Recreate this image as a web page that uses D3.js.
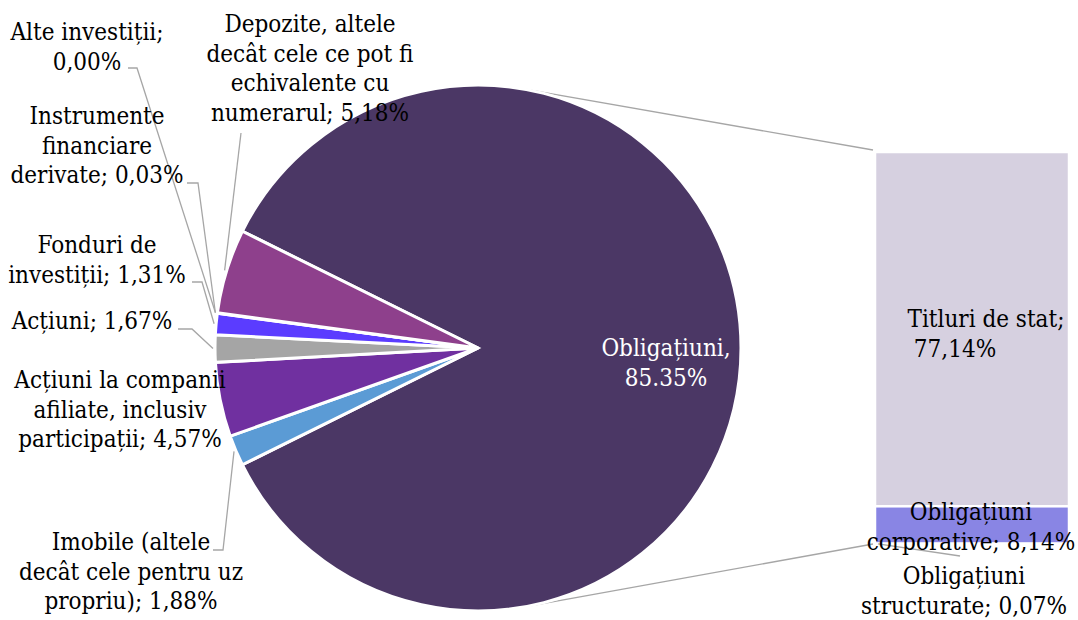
<!DOCTYPE html>
<html>
<head>
<meta charset="utf-8">
<script src="https://cdn.jsdelivr.net/npm/d3@7"></script>
<style>
  html, body { margin: 0; padding: 0; background: #ffffff; }
  svg { display: block; }
</style>
</head>
<body>
<svg id="chart" width="1078" height="620"></svg>
<script>
// Pie categories (clockwise after the large slice) and their shares, %
const pieNames = [
  "Obligațiuni",
  "Imobile (altele\ndecât cele pentru uz\npropriu)",
  "Acțiuni la companii\nafiliate, inclusiv\nparticipații",
  "Acțiuni",
  "Fonduri de\ninvestiții",
  "Instrumente\nfinanciare\nderivate",
  "Alte investiții",
  "Depozite, altele\ndecât cele ce pot fi\nechivalente cu\nnumerarul"
];
const pieValues = [85.35, 1.88, 4.57, 1.67, 1.31, 0.03, 0.00, 5.18];
const pieColors = ["#4b3765", "#5b9bd5", "#7030a0", "#a5a5a5", "#5b3cff", "#ed7d31", "#ffc000", "#8e408c"];

// Breakdown of the bond slice shown in the stacked bar (top to bottom)
const barNames = ["Titluri de stat", "Obligațiuni\ncorporative", "Obligațiuni\nstructurate"];
const barValues = [77.14, 8.14, 0.07];
const barColors = ["#d6d0e0", "#8985e4", "#c9a0dc"];

const svg = d3.select("#chart");
const fmt = v => d3.format(".2f")(v).replace(".", ",");

const FONT_FAMILY = "'DejaVu Serif Condensed', 'DejaVu Serif', serif";
const FONT = 24, LINE = 29.5;
const cx = 478, cy = 348, R = 263;

// ---- stacked bar scale ----
const barTotal = d3.sum(barValues);
const y = d3.scaleLinear().domain([0, barTotal]).range([544, 152]);
const x = d3.scaleBand().domain(["bar"]).range([875, 1069]).padding(0);

let acc = barTotal;
const barData = barValues.map((v, i) => {
  const top = acc; acc -= v;
  return { name: barNames[i], value: v, y0: top, y1: acc, color: barColors[i] };
});

// ---- connector lines tangent to the pie, from bar corners ----
function tangentPoint(px, py, upper) {
  const dx = px - cx, dy = py - cy;
  const d = Math.hypot(dx, dy);
  const phi = Math.atan2(dy, dx);
  const a = Math.acos(R / d);
  const t = upper ? phi - a : phi + a;
  return [cx + R * Math.cos(t), cy + R * Math.sin(t)];
}
const barLeft = x("bar");
const cTop = [barLeft - 2, y(barTotal) - 2];
const cBot = [barLeft - 2, y(0)];
const tTop = tangentPoint(cTop[0], cTop[1], true);
const tBot = tangentPoint(cBot[0], cBot[1], false);

const conn = svg.append("g").attr("stroke", "#a6a6a6").attr("stroke-width", 1.4).attr("fill", "none");
conn.append("line").attr("x1", tTop[0]).attr("y1", tTop[1]).attr("x2", cTop[0]).attr("y2", cTop[1]);
conn.append("line").attr("x1", tBot[0]).attr("y1", tBot[1]).attr("x2", cBot[0]).attr("y2", cBot[1]);

// ---- pie ----
const total = d3.sum(pieValues);
const start = Math.PI / 2 - Math.PI * pieValues[0] / total;
const pie = d3.pie().sort(null).value(d => d).startAngle(start).endAngle(start + 2 * Math.PI);
const arcs = pie(pieValues);
const arc = d3.arc().innerRadius(0).outerRadius(R);
const edgeArc = d3.arc().innerRadius(R + 2).outerRadius(R + 2);

const pieG = svg.append("g").attr("transform", `translate(${cx},${cy})`);
pieG.selectAll("path")
  .data(arcs)
  .join("path")
  .attr("d", arc)
  .attr("fill", (d, i) => pieColors[i])
  .attr("stroke", "#ffffff")
  .attr("stroke-width", 3)
  .attr("stroke-linejoin", "miter");

// ---- bar segments ----
svg.append("g").selectAll("rect")
  .data(barData)
  .join("rect")
  .attr("x", barLeft)
  .attr("width", x.bandwidth())
  .attr("y", d => y(d.y0))
  .attr("height", d => y(d.y1) - y(d.y0))
  .attr("fill", d => d.color)
  .attr("stroke", "#ffffff")
  .attr("stroke-width", 2.5);

// ---- labels ----
function drawLines(g, lines, xs, y0, color) {
  const t = g.append("text")
    .style("font-family", FONT_FAMILY)
    .style("font-stretch", "condensed")
    .attr("font-size", FONT)
    .attr("fill", color || "#000000")
    .attr("text-anchor", "middle");
  lines.forEach((ln, k) => {
    t.append("tspan")
      .attr("x", Array.isArray(xs) ? xs[k] : xs)
      .attr("y", y0 + k * LINE)
      .text(ln);
  });
}

// Label layout for the small pie slices: text centre, first baseline, leader elbow
const pieLabelLayout = [
  null,
  { x: 131, y: 550, sep: "; ", elbow: [[213, 550], [223, 550]] },
  { x: 120, y: 388, sep: "; ", elbow: null },
  { x: 92,  y: 329, sep: "; ", elbow: [[178, 329], [192, 329]] },
  { x: 97,  y: 253, sep: "; ", elbow: [[192, 282], [202, 282]] },
  { x: 97,  y: 124, sep: "; ", elbow: [[187, 183], [198, 183]] },
  { x: 87,  y: 40,  sep: ";\n", elbow: [[128, 68], [137, 68]] },
  { x: 310, y: 32,  sep: "; ", elbow: [[241, 133]] }
];

const leaderG = svg.append("g").attr("stroke", "#a6a6a6").attr("stroke-width", 1.3).attr("fill", "none");
const labelG = svg.append("g");

arcs.forEach((d, i) => {
  const L = pieLabelLayout[i];
  if (!L) return;
  const txt = pieNames[i] + L.sep + fmt(pieValues[i]) + "%";
  drawLines(labelG, txt.split("\n"), L.x, L.y);
  if (L.elbow) {
    const c = edgeArc.centroid(d);
    const pts = L.elbow.concat([[cx + c[0], cy + c[1]]]);
    leaderG.append("path").attr("d", d3.line()(pts));
  }
});

// Large slice label inside the pie
drawLines(labelG, [pieNames[0] + ",", d3.format(".2f")(pieValues[0]) + "%"], 666, 356, "#ffffff");

// Bar labels
drawLines(labelG, [barNames[0] + ";", fmt(barValues[0]) + "%"], [986, 955], 327);
const corp = (barNames[1] + "; " + fmt(barValues[1]) + "%").split("\n");
drawLines(labelG, corp, 971, 520);
const struct = (barNames[2] + "; " + fmt(barValues[2]) + "%").split("\n");
drawLines(labelG, struct, 964, 584);

// leader from the thin structured-bond segment to its label
leaderG.append("line")
  .attr("x1", barLeft + 3).attr("y1", y(barValues[2] / 2))
  .attr("x2", 960).attr("y2", 556);
</script>
</body>
</html>
